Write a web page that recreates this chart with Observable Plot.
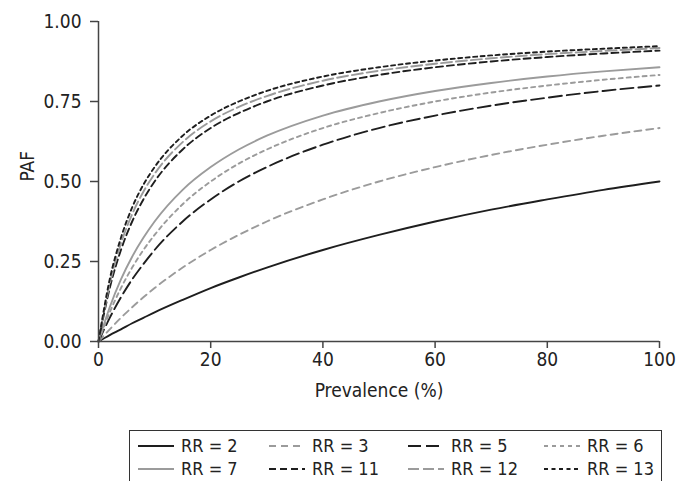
<!DOCTYPE html>
<html>
<head>
<meta charset="utf-8">
<script src="https://cdn.jsdelivr.net/npm/d3@7"></script>
<script src="https://cdn.jsdelivr.net/npm/@observablehq/plot@0.6"></script>
<style>
  html, body { margin: 0; padding: 0; background: #fff; }
  body { width: 682px; height: 481px; position: relative; overflow: hidden;
         font-family: "Liberation Sans Narrow", "DejaVu Sans Condensed", "Roboto", sans-serif; color: #222; }
  #chart { position: absolute; left: 0; top: 0; }
  #legend { position: absolute; left: 129px; top: 430px; width: 533px; height: 60px;
            border: 1.3px solid #333; box-sizing: border-box; }
  .item { position: absolute; display: flex; align-items: center; font-size: 18px; height: 20px; line-height: 20px; white-space: nowrap; }
  .item svg { margin-right: 7px; }
</style>
</head>
<body>
<div id="chart"></div>
<div id="legend"></div>
<script>
// Prevalence (%) sample points
const prevalence = [0, 2, 4, 6, 8, 10, 15, 20, 25, 30, 40, 50, 60, 70, 80, 90, 100];
// PAF values read per relative risk (RR)
const rr2  = [0, 0.020, 0.038, 0.057, 0.074, 0.091, 0.130, 0.167, 0.200, 0.231, 0.286, 0.333, 0.375, 0.412, 0.444, 0.474, 0.500];
const rr3  = [0, 0.038, 0.074, 0.107, 0.138, 0.167, 0.231, 0.286, 0.333, 0.375, 0.444, 0.500, 0.545, 0.583, 0.615, 0.643, 0.667];
const rr5  = [0, 0.074, 0.138, 0.194, 0.242, 0.286, 0.375, 0.444, 0.500, 0.545, 0.615, 0.667, 0.706, 0.737, 0.762, 0.783, 0.800];
const rr6  = [0, 0.091, 0.167, 0.231, 0.286, 0.333, 0.429, 0.500, 0.556, 0.600, 0.667, 0.714, 0.750, 0.778, 0.800, 0.818, 0.833];
const rr7  = [0, 0.107, 0.194, 0.265, 0.324, 0.375, 0.474, 0.545, 0.600, 0.643, 0.706, 0.750, 0.783, 0.808, 0.828, 0.844, 0.857];
const rr11 = [0, 0.167, 0.286, 0.375, 0.444, 0.500, 0.600, 0.667, 0.714, 0.750, 0.800, 0.833, 0.857, 0.875, 0.889, 0.900, 0.909];
const rr12 = [0, 0.180, 0.306, 0.398, 0.468, 0.524, 0.623, 0.688, 0.733, 0.767, 0.815, 0.846, 0.868, 0.885, 0.898, 0.908, 0.917];
const rr13 = [0, 0.194, 0.324, 0.419, 0.490, 0.545, 0.643, 0.706, 0.750, 0.783, 0.828, 0.857, 0.878, 0.894, 0.906, 0.915, 0.923];

const seriesNames = ["RR = 2", "RR = 3", "RR = 5", "RR = 6", "RR = 7", "RR = 11", "RR = 12", "RR = 13"];
const seriesValues = [rr2, rr3, rr5, rr6, rr7, rr11, rr12, rr13];
const xTicks = [0, 20, 40, 60, 80, 100];
const yTicks = [0, 0.25, 0.5, 0.75, 1];

const BLACK = "#1e1e1e", GRAY = "#9b9b9b";
const styles = [
  {stroke: BLACK, dash: null},
  {stroke: GRAY,  dash: "7,5"},
  {stroke: BLACK, dash: "13,5"},
  {stroke: GRAY,  dash: "4,4"},
  {stroke: GRAY,  dash: null},
  {stroke: BLACK, dash: "7,4"},
  {stroke: GRAY,  dash: "11,4"},
  {stroke: BLACK, dash: "4,3.5"}
];

const lineMarks = seriesValues.map((vals, i) => {
  const data = prevalence.map((p, j) => ({p, v: vals[j]}));
  return Plot.line(data, {
    x: "p", y: "v", curve: "monotone-x",
    stroke: styles[i].stroke, strokeWidth: 1.9,
    strokeDasharray: styles[i].dash || undefined
  });
});

const fontFam = '"Liberation Sans Narrow", "DejaVu Sans Condensed", "Roboto", sans-serif';

const plot = Plot.plot({
  width: 682,
  height: 412,
  marginLeft: 98,
  marginRight: 23,
  marginTop: 21,
  marginBottom: 71,
  style: {fontFamily: fontFam, fontSize: "19px", color: "#222", background: "#fff"},
  x: {domain: [0, 100]},
  y: {domain: [0, 1]},
  marks: [
    ...lineMarks,
    Plot.ruleY([0], {stroke: "#444", strokeWidth: 1.5}),
    Plot.ruleX([0], {stroke: "#444", strokeWidth: 1.5}),
    Plot.axisX({ticks: xTicks, tickSize: 7, tickPadding: 4, label: null, stroke: "#444", strokeWidth: 1.5, fontSize: 19}),
    Plot.axisY({ticks: yTicks, tickFormat: d3.format(".2f"), tickSize: 8, tickPadding: 9, label: null, stroke: "#444", strokeWidth: 1.5, fontSize: 19}),
    Plot.text(["Prevalence (%)"], {text: d => d, frameAnchor: "bottom", dy: 55, fontSize: 19, fill: "#222"}),
    Plot.text(["PAF"], {text: d => d, frameAnchor: "left", dx: -71, rotate: -90, fontSize: 19, fill: "#222"})
  ]
});
document.getElementById("chart").appendChild(plot);

// Legend (4 columns x 2 rows)
const colLeft = [8, 139, 278, 414];
const rowTop = [5, 28];
const legend = document.getElementById("legend");
seriesNames.forEach((name, i) => {
  const col = i % 4, row = Math.floor(i / 4);
  const item = document.createElement("div");
  item.className = "item";
  item.style.left = colLeft[col] + "px";
  item.style.top = rowTop[row] + "px";
  const dash = styles[i].dash ? `stroke-dasharray="${styles[i].dash}"` : "";
  item.innerHTML = `<svg width="36" height="10"><line x1="0" y1="5" x2="36" y2="5" stroke="${styles[i].stroke}" stroke-width="2" ${dash}/></svg><span>${name}</span>`;
  legend.appendChild(item);
});
</script>
</body>
</html>
